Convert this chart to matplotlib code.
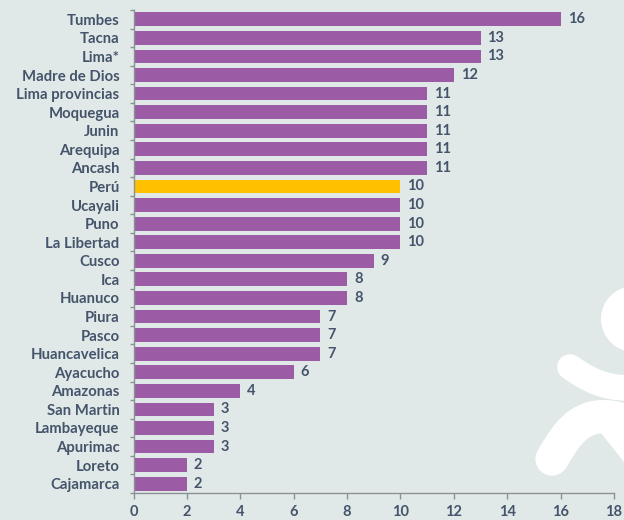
#!/bin/env python3

import matplotlib
matplotlib.use('Agg')
import matplotlib.pyplot as plt
from matplotlib.patches import Circle, PathPatch, Polygon
from matplotlib.path import Path
from matplotlib.transforms import Affine2D

regions = ['Tumbes', 'Tacna', 'Lima*', 'Madre de Dios', 'Lima provincias', 'Moquegua',
           'Junin', 'Arequipa', 'Ancash', 'Perú', 'Ucayali', 'Puno', 'La Libertad',
           'Cusco', 'Ica', 'Huanuco', 'Piura', 'Pasco', 'Huancavelica', 'Ayacucho',
           'Amazonas', 'San Martin', 'Lambayeque', 'Apurimac', 'Loreto', 'Cajamarca']
values = [16, 13, 13, 12, 11, 11, 11, 11, 11, 10, 10, 10, 10,
          9, 8, 8, 7, 7, 7, 6, 4, 3, 3, 3, 2, 2]
x_ticks = [0, 2, 4, 6, 8, 10, 12, 14, 16, 18]

bg_color = '#e1e8e8'
bar_color = '#9c5ba5'
highlight_color = '#ffc000'
text_color = '#44546a'
axis_color = '#8c9294'

W, H = 624, 520
plt.rcParams['font.family'] = ['Lato', 'DejaVu Sans']

fig = plt.figure(figsize=(W / 100, H / 100), dpi=100, facecolor=bg_color)

# watermark figure, in pixels from the top left corner
px = Affine2D().scale(1 / W, -1 / H).translate(0, 1) + fig.transFigure
fig.patches.append(Circle((634, 319), 33, transform=px, facecolor='white', edgecolor='none'))
arm = Path([(570, 367), (590, 381), (605, 388), (630, 388)], [Path.MOVETO, Path.CURVE4, Path.CURVE4, Path.CURVE4])
fig.patches.append(PathPatch(arm, transform=px, facecolor='none', edgecolor='white', linewidth=18.5, capstyle='round'))
leg = Path([(552, 459), (570, 428), (586, 404), (635, 424)], [Path.MOVETO, Path.CURVE4, Path.CURVE4, Path.CURVE4])
fig.patches.append(PathPatch(leg, transform=px, facecolor='none', edgecolor='white', linewidth=24, capstyle='round'))
fig.patches.append(Polygon([(597, 428), (605, 420), (624, 420), (624, 462)], transform=px, facecolor='white', edgecolor='none'))

ax = fig.add_axes([133.5 / W, 1 - 493 / H, (614 - 133.5) / W, (493 - 10) / H])
ax.patch.set_alpha(0)

positions = list(range(len(regions)))
colors = [highlight_color if r == 'Perú' else bar_color for r in regions]
ax.barh(positions, values, height=0.74, color=colors)

for p, v in zip(positions, values):
    ax.annotate(str(v), (v, p), xytext=(5, 0), textcoords='offset points', va='center',
                fontsize=10.5, fontweight='bold', color=text_color)

ax.set_xlim(0, 18)
ax.set_ylim(len(regions) - 0.5, -0.5)

ax.set_xticks(x_ticks, labels=[str(t) for t in x_ticks], fontsize=10.5, fontweight='bold', color=text_color)
ax.set_yticks([p + 0.5 for p in positions] + [-0.5], minor=True)
ax.set_yticks(positions, labels=regions, fontsize=10.7, fontweight='bold', color=text_color)
ax.tick_params(axis='y', which='major', length=0, pad=10)
ax.tick_params(axis='y', which='minor', length=3, color=axis_color, width=1, direction='out')
ax.tick_params(axis='x', length=4, color=axis_color, width=1, pad=5)

for side in ['top', 'right']:
    ax.spines[side].set_visible(False)
for side in ['left', 'bottom']:
    ax.spines[side].set_color(axis_color)
    ax.spines[side].set_linewidth(1)

plt.savefig('out.png', dpi=100, facecolor=bg_color)
